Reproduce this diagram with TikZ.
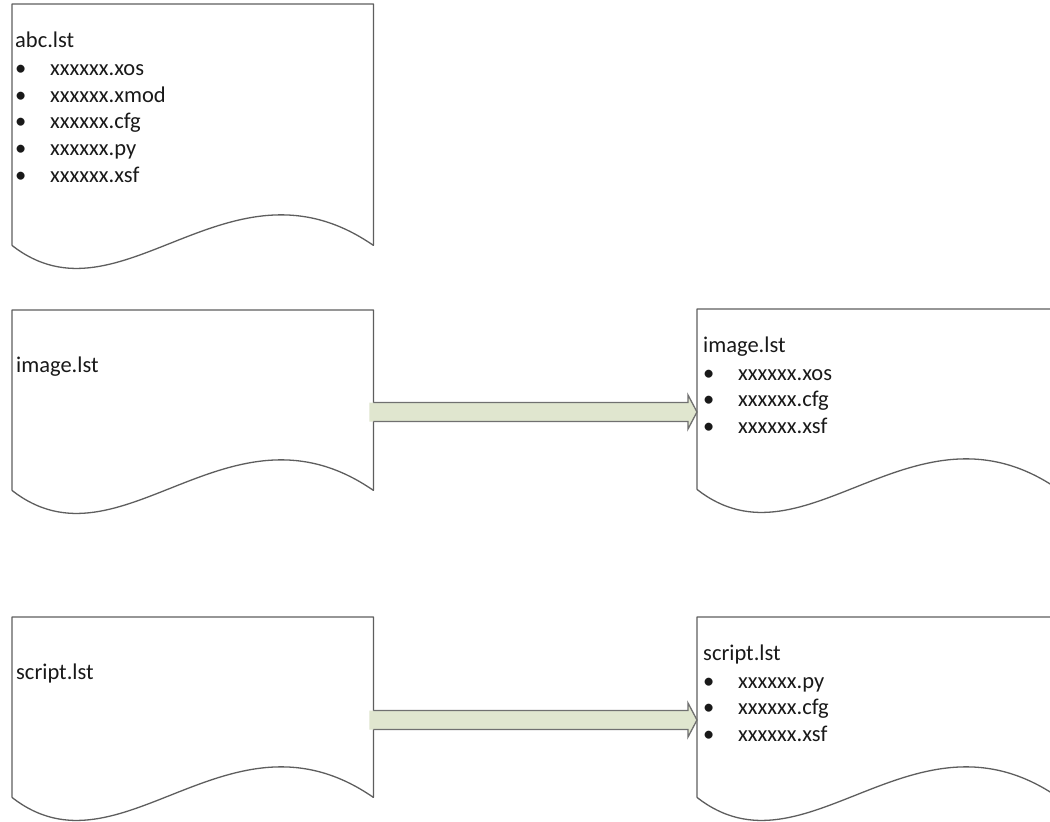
\documentclass[tikz,border=0pt]{standalone}
\usepackage{fontspec}
\setmainfont{Carlito}
\usetikzlibrary{calc}
\definecolor{docgray}{HTML}{5E5E5E}
\definecolor{arrowfillc}{HTML}{E0E6CF}
\definecolor{arrowline}{HTML}{707070}
\tikzset{
  docbox/.style={rectangle, draw=none, inner sep=0pt, anchor=north west, minimum width=361pt},
  docline/.style={draw=docgray, line width=1.3pt, line join=round},
  lbl/.style={anchor=base west, inner sep=0pt, font=\fontsize{22.5}{27}\selectfont, text=black!90},
  arrowbody/.style={fill=arrowfillc, draw=none},
  arrowedge/.style={draw=arrowline, line width=1.3pt, line join=miter},
}
\newcommand\docoutline[1]{%
  \draw[docline] (#1.south west) -- (#1.north west) -- (#1.north east) -- (#1.south east)
    .. controls ($(#1.south east)!0.4!(#1.south west)+(0,-100)$) and ($(#1.south east)!0.7!(#1.south west)+(0,85)$) .. (#1.south west);}
\newcommand\bigarrow[2]{%
  \fill[arrowbody] ($(#1)+(-4,-9.5)$) -- ($(#2)+(-9,-9.5)$) -- ($(#2)+(-9,-17)$) -- (#2)
    -- ($(#2)+(-9,17)$) -- ($(#2)+(-9,9.5)$) -- ($(#1)+(-4,9.5)$) -- cycle;
  \draw[arrowedge] ($(#1)+(0,-9.5)$) -- ($(#2)+(-9,-9.5)$) -- ($(#2)+(-9,-17)$) -- (#2)
    -- ($(#2)+(-9,17)$) -- ($(#2)+(-9,9.5)$) -- ($(#1)+(0,9.5)$);}
\newcommand\itm[1]{\makebox[35pt][l]{\textbullet}#1}
\begin{document}
\begin{tikzpicture}[x=1pt,y=-1pt]
\useasboundingbox (0,0) rectangle (1050,822);
\clip (0,0) rectangle (1050,822);
\fill[white] (0,0) rectangle (1050,822);
% documents
\node[docbox, minimum height=241pt] (d1) at (12,4) {};
\node[docbox, minimum height=180pt] (d2) at (12,310) {};
\node[docbox, minimum height=180pt] (d3) at (12,617) {};
\node[docbox, minimum height=180pt] (d4) at (697,309) {};
\node[docbox, minimum height=180pt] (d5) at (697,617) {};
\docoutline{d1}
\docoutline{d2}
\docoutline{d3}
\docoutline{d4}
\docoutline{d5}
% abc.lst
\node[lbl] (t1) at ($(d1.north west)+(3,43)$) {abc.lst};
\node[lbl] (t1a) at ($(d1.north west)+(3,71.5)$) {\itm{xxxxxx.xos}};
\node[lbl] (t1b) at ($(d1.north west)+(3,98.2)$) {\itm{xxxxxx.xmod}};
\node[lbl] (t1c) at ($(d1.north west)+(3,124.9)$) {\itm{xxxxxx.cfg}};
\node[lbl] (t1d) at ($(d1.north west)+(3,151.6)$) {\itm{xxxxxx.py}};
\node[lbl] (t1e) at ($(d1.north west)+(3,178.3)$) {\itm{xxxxxx.xsf}};
% left docs
\node[lbl] (t2) at ($(d2.north west)+(4,62)$) {image.lst};
\node[lbl] (t3) at ($(d3.north west)+(4,62)$) {script.lst};
% right docs
\node[lbl] (t4) at ($(d4.north west)+(6,43)$) {image.lst};
\node[lbl] (t4a) at ($(d4.north west)+(6,71)$) {\itm{xxxxxx.xos}};
\node[lbl] (t4b) at ($(d4.north west)+(6,97.7)$) {\itm{xxxxxx.cfg}};
\node[lbl] (t4c) at ($(d4.north west)+(6,124.4)$) {\itm{xxxxxx.xsf}};
\node[lbl] (t5) at ($(d5.north west)+(6,43)$) {script.lst};
\node[lbl] (t5a) at ($(d5.north west)+(6,71)$) {\itm{xxxxxx.py}};
\node[lbl] (t5b) at ($(d5.north west)+(6,97.7)$) {\itm{xxxxxx.cfg}};
\node[lbl] (t5c) at ($(d5.north west)+(6,124.4)$) {\itm{xxxxxx.xsf}};
% arrows
\coordinate (a1s) at ($(d2.north east)+(0,102)$);
\coordinate (a1e) at ($(d4.north west)+(0,103)$);
\coordinate (a2s) at ($(d3.north east)+(0,103)$);
\coordinate (a2e) at ($(d5.north west)+(0,103)$);
\bigarrow{a1s}{a1e}
\bigarrow{a2s}{a2e}
\end{tikzpicture}
\end{document}
